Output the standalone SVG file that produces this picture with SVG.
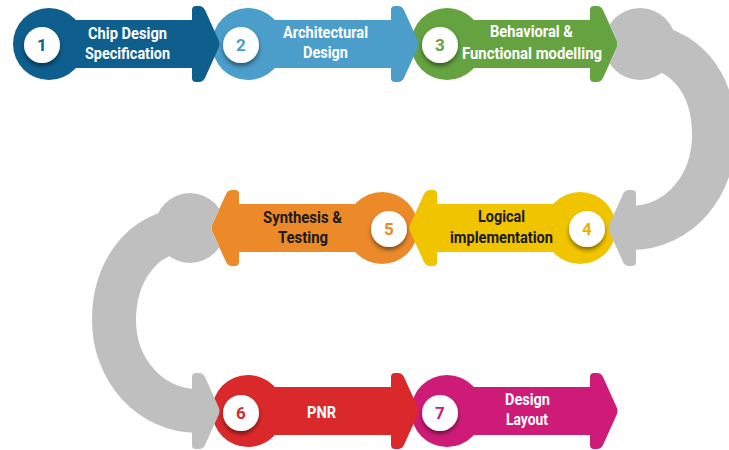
<svg xmlns="http://www.w3.org/2000/svg" xmlns:xlink="http://www.w3.org/1999/xlink" width="729" height="450" viewBox="0 0 729 450">
<style>
.lbl{font-family:Roboto,"Liberation Sans",Arial,sans-serif;font-weight:bold;font-size:17px;text-anchor:middle}
.w{fill:#ffffff}
.k{fill:#1a1a1a}
.num{font-family:Roboto,"Liberation Sans",Arial,sans-serif;font-weight:bold;font-size:17px;text-anchor:middle}
.inner{fill:#ffffff;filter:url(#sh)}
.gray{fill:none;stroke:#bfbfbf;stroke-width:44}
.grayf{fill:#bfbfbf}
</style>
<defs>
<filter id="sh" x="-40%" y="-40%" width="180%" height="190%">
<feDropShadow dx="0" dy="3" stdDeviation="2" flood-color="#000" flood-opacity="0.45"/>
</filter>
<g id="shape">
<circle cx="0" cy="0" r="36"/>
<path d="M0 -24 L143 -24 L143 -34 Q143 -38 147 -38 L150 -38 Q154 -38 156 -34 L170 -3 Q171 0 170 3 L156 34 Q154 38 150 38 L147 38 Q143 38 143 34 L143 24 L0 24 Z"/>
</g>
<path id="ghead" d="M-28 -24 L-28 -34 Q-28 -38 -24 -38 L-21 -38 Q-17 -38 -15 -34 L-1 -3 Q0 0 -1 3 L-15 34 Q-17 38 -21 38 L-24 38 Q-28 38 -28 34 L-28 24 Z"/>
<mask id="cut" maskUnits="userSpaceOnUse" x="0" y="0" width="729" height="450">
<rect x="0" y="0" width="729" height="450" fill="#fff"/>
<use xlink:href="#shape" href="#shape" transform="translate(447,44)" fill="#000"/>
<use xlink:href="#shape" href="#shape" transform="translate(382,228) scale(-1,1)" fill="#000"/>
</mask>
</defs>

<g id="node7">
<use href="#shape" xlink:href="#shape" transform="translate(447,411)" fill="#ce1b78"/>
<circle class="inner" cx="440" cy="413" r="18"/>
<text class="num" x="440" y="419" fill="#ce1b78">7</text>
<text class="lbl w" x="527.5" y="405" textLength="45" lengthAdjust="spacingAndGlyphs">Design</text>
<text class="lbl w" x="527" y="425" textLength="42" lengthAdjust="spacingAndGlyphs">Layout</text>
</g>
<g id="node6">
<use href="#shape" xlink:href="#shape" transform="translate(248,411)" fill="#da292a"/>
<circle class="inner" cx="241" cy="413" r="18"/>
<text class="num" x="241" y="419" fill="#da292a">6</text>
<text class="lbl w" x="321.5" y="418" textLength="29" lengthAdjust="spacingAndGlyphs">PNR</text>
</g>
<g id="node5">
<use href="#shape" xlink:href="#shape" transform="translate(382,228) scale(-1,1)" fill="#ec8a2a"/>
<circle class="inner" cx="389" cy="229" r="18"/>
<text class="num" x="389" y="235" fill="#ec8a2a">5</text>
<text class="lbl k" x="302.5" y="223" textLength="79" lengthAdjust="spacingAndGlyphs">Synthesis &amp;</text>
<text class="lbl k" x="303" y="243" textLength="50" lengthAdjust="spacingAndGlyphs">Testing</text>
</g>
<g id="node4">
<use href="#shape" xlink:href="#shape" transform="translate(580,228) scale(-1,1)" fill="#f1c400"/>
<circle class="inner" cx="587" cy="229" r="18"/>
<text class="num" x="587" y="235" fill="#ebb300">4</text>
<text class="lbl k" x="501.5" y="222" textLength="47" lengthAdjust="spacingAndGlyphs">Logical</text>
<text class="lbl k" x="501.5" y="243" textLength="103" lengthAdjust="spacingAndGlyphs">implementation</text>
</g>
<g id="node3">
<use href="#shape" xlink:href="#shape" transform="translate(447,44)" fill="#64a340"/>
<circle class="inner" cx="440" cy="45" r="18"/>
<text class="num" x="440" y="51" fill="#64a340">3</text>
<text class="lbl w" x="531.5" y="37" textLength="83" lengthAdjust="spacingAndGlyphs">Behavioral &amp;</text>
<text class="lbl w" x="532" y="59" textLength="140" lengthAdjust="spacingAndGlyphs">Functional modelling</text>
</g>
<g id="node2">
<use href="#shape" xlink:href="#shape" transform="translate(248,44)" fill="#4b9dca"/>
<circle class="inner" cx="241" cy="45" r="18"/>
<text class="num" x="241" y="51" fill="#4b9dca">2</text>
<text class="lbl w" x="325.5" y="38" textLength="85" lengthAdjust="spacingAndGlyphs">Architectural</text>
<text class="lbl w" x="325.5" y="58" textLength="45" lengthAdjust="spacingAndGlyphs">Design</text>
</g>
<g id="node1">
<use href="#shape" xlink:href="#shape" transform="translate(49,44)" fill="#0e5e8e"/>
<circle class="inner" cx="42" cy="45" r="18"/>
<text class="num" x="42" y="51" fill="#0e5e8e">1</text>
<text class="lbl w" x="127.5" y="39" textLength="79" lengthAdjust="spacingAndGlyphs">Chip Design</text>
<text class="lbl w" x="127.5" y="59" textLength="85" lengthAdjust="spacingAndGlyphs">Specification</text>
</g>

<g id="connectors" mask="url(#cut)">
<circle class="grayf" cx="640" cy="44" r="36"/>
<path class="gray" d="M640 46 C682 46 714 80 714 135 C714 185 680 228 630 228"/>
<use href="#ghead" xlink:href="#ghead" class="grayf" transform="translate(608,228) scale(-1,1)"/>
<circle class="grayf" cx="190" cy="228" r="35"/>
<path class="gray" d="M190 230 C140 230 114 275 114 320 C114 370 150 411 198 411"/>
<use href="#ghead" xlink:href="#ghead" class="grayf" transform="translate(220,411)"/>
</g>
</svg>
